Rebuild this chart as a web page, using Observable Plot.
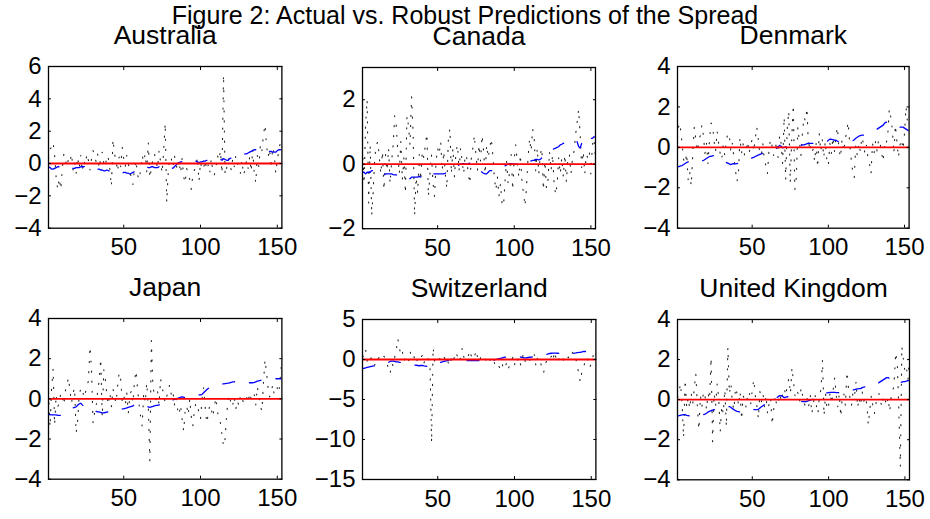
<!DOCTYPE html>
<html>
<head>
<meta charset="utf-8">
<script src="https://cdn.jsdelivr.net/npm/d3@7"></script>
<script src="https://cdn.jsdelivr.net/npm/@observablehq/plot@0.6"></script>
<style>
  html, body { margin: 0; padding: 0; background: #fff; }
  #fig { position: relative; width: 930px; height: 519px; overflow: hidden; background: #fff;
         font-family: "Liberation Sans", Arial, Helvetica, sans-serif; color: #000; }
  #title { position: absolute; left: 0; top: 3px; width: 930px; text-align: center;
           font-size: 25px; line-height: 25px; white-space: nowrap; }
</style>
</head>
<body>
<div id="fig"><div id="title">Figure 2: Actual vs. Robust Predictions of the Spread</div></div>
<script>
const countries = ["Australia", "Canada", "Denmark", "Japan", "Switzerland", "United Kingdom"];
const xDomain = [1, 153];
const xTicks = [50, 100, 150];
const yDomains = [[-4, 6], [-2, 3], [-4, 4], [-4, 4], [-15, 5], [-4, 4]];
const yTicks = [[-4, -2, 0, 2, 4, 6], [-2, 0, 2], [-4, -2, 0, 2, 4], [-4, -2, 0, 2, 4], [-15, -10, -5, 0, 5], [-4, -2, 0, 2, 4]];
const zeroLine = [0];

const actualAustralia = [
  0.3, 0.9, 1.0, 1.3, 0.5, -0.9, -1.6, -0.9, -1.6, -0.3,
  0.6, 0.2, -0.2, 0.3, 0.1, 0.6, -0.4, 0.1, -0.6, 0.4,
  -0.3, 0.5, -0.5, 0.2, -0.1, 0.6, 0.2, -0.4, 0.3, 0.8,
  0.5, 0.1, 0.6, -0.3, 0.4, 0.7, 0.0, -0.2, 0.5, 0.3,
  -0.4, -1.4, 1.5, 0.6, 0.2, -0.5, 0.4, -0.2, 1.0, 0.3,
  -0.2, 0.5, 0.0, -0.6, -0.8, -1.3, -0.3, 0.2, -0.7, -1.0,
  -0.4, 0.5, 0.1, 0.6, -0.5, 1.3, -0.9, -0.3, 0.3, 0.6,
  0.2, -0.3, 0.8, 0.1, -0.6, 0.8, 2.5, -2.4, -0.5, 0.4,
  0.3, -0.2, 0.5, 0.0, -0.4, 0.2, -0.6, 0.3, -0.8, -1.2,
  -0.3, -0.7, -1.0, -1.6, -0.7, -0.4, -0.3, 0.4, -1.1, 0.1,
  -0.4, -0.3, 0.2, -0.4, -0.1, -0.6, 0.3, -0.5, -0.7, -0.3,
  0.5, 0.2, 0.8, -0.6, 5.5, -0.7, -0.3, 0.3, 0.0, -0.4,
  0.3, -0.2, 0.5, 0.0, -0.3, -0.6, 0.2, -0.7, -0.4, 0.2,
  -0.3, 0.4, -0.5, 0.9, -0.6, -1.2, 0.5, -0.2, 1.2, 0.8,
  1.8, 2.4, 1.1, 0.4, 0.9, -0.3, 1.0, 0.6, -0.6, 0.2,
  0.8, 1.3, 0.7];
const robustAustralia = [
  -0.2, -0.25, -0.35, -0.35, -0.3, -0.25, -0.2, -0.2, -0.15, -0.15,
  -0.1, -0.1, -0.15, -0.2, -0.25, -0.3, -0.3, -0.3, -0.25, -0.25,
  -0.25, -0.2, -0.2, -0.2, -0.15, -0.15, -0.1, -0.1, -0.15, -0.2,
  -0.25, -0.3, -0.35, -0.35, -0.4, -0.4, -0.45, -0.45, -0.4, -0.45,
  -0.45, -0.5, -0.5, -0.55, -0.6, -0.6, -0.55, -0.6, -0.6, -0.55,
  -0.55, -0.6, -0.6, -0.65, -0.6, -0.55, -0.5, -0.45, -0.4, -0.35,
  -0.3, -0.25, -0.2, -0.2, -0.2, -0.25, -0.25, -0.2, -0.2, -0.25,
  -0.25, -0.25, -0.2, -0.25, -0.2, -0.25, -0.3, -0.25, -0.25, -0.3,
  -0.25, -0.3, -0.2, -0.1, 0.0, 0.05, 0.1, 0.1, 0.1, 0.15,
  0.1, 0.15, 0.2, 0.2, 0.2, 0.15, 0.15, 0.1, 0.05, 0.1,
  0.1, 0.15, 0.15, 0.2, 0.2, 0.15, 0.15, 0.2, 0.2, 0.15,
  0.2, 0.2, 0.25, 0.2, 0.3, 0.25, 0.2, 0.2, 0.3, 0.35,
  0.4, 0.45, 0.5, 0.5, 0.55, 0.55, 0.55, 0.55, 0.6, 0.6,
  0.65, 0.7, 0.75, 0.8, 0.85, 0.85, 0.8, 0.75, 0.7, 0.7,
  0.7, 0.7, 0.75, 0.7, 0.75, 0.75, 0.7, 0.7, 0.7, 0.8,
  0.85, 0.85, 0.8];

const actualCanada = [
  0.5, -0.6, 1.2, 2.0, -1.2, 0.6, -1.6, -0.8, 0.2, 0.6,
  0.7, 0.2, -0.3, 0.4, -0.8, 0.3, -0.2, 0.5, -0.6, 0.1,
  0.6, 1.5, 1.2, 0.4, -0.3, 0.7, -0.5, 0.2, -0.9, 1.5,
  1.2, 0.6, 2.1, 1.0, -1.6, -0.4, -0.9, 0.3, -0.5, 0.4,
  0.2, 0.6, 0.95, -1.0, -0.3, 0.3, -0.6, -1.0, 0.1, 0.5,
  0.3, 0.7, -0.2, 0.4, -0.3, -0.75, 0.75, 1.1, -0.3, 0.5,
  -0.4, 0.4, 0.6, -0.2, 0.5, 0.1, -0.3, 0.3, 0.2, -0.3,
  -0.6, 0.2, 0.5, 0.9, 0.3, -0.2, 0.6, 0.1, 0.9, 0.4,
  -0.3, 0.6, 0.2, 0.5, 0.8, 0.3, -0.4, -0.8, -0.4, -1.0,
  -0.6, -1.2, -1.3, -0.5, 0.1, -0.6, -0.2, 0.3, -0.8, 0.2,
  0.6, 0.0, -0.4, 0.3, -0.5, -0.9, -1.3, -0.7, 0.2, 0.8,
  0.4, 1.1, 0.8, -0.2, 0.5, -0.3, 0.3, 0.5, -0.8, 0.1,
  -0.75, -0.5, 0.4, -0.2, 0.3, -0.6, -0.95, -0.6, 0.2, -0.3,
  0.2, -0.4, 0.3, -0.55, 0.2, 0.3, -0.3, 0.2, 0.4, 0.9,
  1.3, 1.7, 0.9, -0.1, 0.4, -0.3, 0.3, 0.2, 0.4, -0.3,
  0.6, 0.8, 0.2];
const robustCanada = [
  -0.25, -0.25, -0.3, -0.25, -0.25, -0.25, -0.2, -0.2, -0.25, -0.3,
  -0.3, -0.3, -0.3, -0.35, -0.35, -0.3, -0.3, -0.3, -0.3, -0.3,
  -0.32, -0.33, -0.33, -0.35, -0.35, -0.35, -0.33, -0.35, -0.4, -0.4,
  -0.45, -0.45, -0.4, -0.4, -0.4, -0.4, -0.4, -0.38, -0.4, -0.42,
  -0.4, -0.4, -0.38, -0.4, -0.35, -0.3, -0.3, -0.3, -0.3, -0.3,
  -0.3, -0.3, -0.3, -0.3, -0.28, -0.25, -0.22, -0.2, -0.18, -0.15,
  -0.12, -0.08, -0.05, -0.02, 0.0, 0.02, 0.02, 0.0, 0.0, 0.02,
  0.03, 0.02, 0.0, -0.02, -0.05, -0.1, -0.15, -0.2, -0.25, -0.28,
  -0.3, -0.3, -0.25, -0.2, -0.2, -0.2, -0.15, -0.15, -0.12, -0.1,
  -0.1, -0.1, -0.08, -0.05, -0.02, 0.0, 0.02, 0.02, 0.0, 0.0,
  0.0, 0.02, 0.03, 0.05, 0.05, 0.05, 0.06, 0.08, 0.1, 0.1,
  0.1, 0.12, 0.12, 0.15, 0.15, 0.13, 0.15, 0.2, 0.25, 0.3,
  0.35, 0.38, 0.4, 0.42, 0.45, 0.48, 0.5, 0.52, 0.55, 0.6,
  0.62, 0.65, 0.65, 0.65, 0.68, 0.7, 0.7, 0.72, 0.72, 0.75,
  0.7, 0.55, 0.5, 0.65, 0.8, 0.8, 0.75, 0.75, 0.8, 0.8,
  0.8, 0.85, 0.85];

const actualDenmark = [
  0.5, 1.2, 0.9, 0.2, -0.6, -0.8, -0.3, -1.6, -1.2, -1.9,
  -0.4, 1.0, 0.4, -0.2, 0.3, 0.6, 1.1, 0.6, -0.3, 0.2,
  -0.8, 0.4, 1.2, 1.1, 0.3, -0.2, 0.8, 0.2, -0.3, -0.6,
  0.1, -0.4, 0.3, 0.7, 0.6, -0.2, 0.2, -0.5, -1.1, -1.7,
  -1.3, 0.5, -0.3, 0.2, -0.4, -0.2, 0.3, -0.3, 0.1, 0.4,
  -0.2, 0.4, 1.0, 0.4, -0.3, -0.4, 0.2, -0.6, -0.9, -1.3,
  -0.2, 0.4, 0.1, -0.4, -0.2, 0.3, -0.5, 0.6, 0.2, -0.8,
  1.5, -1.6, 0.9, 1.8, -1.75, 0.5, 2.1, -2.1, -1.5, 1.0,
  0.3, -0.4, 0.7, 1.5, 1.3, 1.95, -0.1, 0.3, -0.3, -0.1,
  -0.7, 0.2, -1.0, 0.7, -0.2, 0.4, -0.5, 0.3, -0.6, -0.9,
  0.2, -0.3, 0.5, -0.2, 0.6, 1.0, -0.1, -0.5, 0.4, -0.2,
  0.3, 0.8, 1.25, 0.2, -0.6, -1.2, -1.5, 0.1, -0.4, 0.2,
  -0.2, 0.5, 0.2, -0.3, 0.1, -0.5, -0.8, -1.3, 0.2, -0.3,
  0.3, -0.2, 0.4, 0.2, -0.3, -0.7, 0.3, 0.2, 0.6, 1.9,
  1.5, 0.9, -0.3, 1.1, 0.3, -0.5, 0.1, 0.4, -0.1, 0.7,
  2.0, 1.2, 1.5];
const robustDenmark = [
  -0.95, -0.95, -0.92, -0.9, -0.85, -0.8, -0.75, -0.72, -0.7, -0.7,
  -0.7, -0.72, -0.75, -0.75, -0.72, -0.7, -0.68, -0.65, -0.6, -0.55,
  -0.5, -0.45, -0.45, -0.42, -0.4, -0.45, -0.5, -0.55, -0.6, -0.65,
  -0.7, -0.72, -0.75, -0.78, -0.82, -0.85, -0.82, -0.8, -0.82, -0.8,
  -0.78, -0.75, -0.7, -0.68, -0.65, -0.62, -0.6, -0.58, -0.55, -0.52,
  -0.5, -0.45, -0.42, -0.38, -0.35, -0.32, -0.3, -0.28, -0.25, -0.22,
  -0.2, -0.18, -0.15, -0.12, -0.1, -0.05, 0.02, 0.1, 0.05, -0.02,
  0.0, 0.02, 0.03, 0.03, 0.04, 0.05, 0.05, 0.05, 0.05, 0.06,
  0.08, 0.1, 0.12, 0.12, 0.15, 0.18, 0.2, 0.2, 0.2, 0.2,
  0.22, 0.22, 0.22, 0.24, 0.25, 0.25, 0.25, 0.25, 0.28, 0.35,
  0.4, 0.4, 0.38, 0.35, 0.35, 0.3, 0.3, 0.3, 0.3, 0.3,
  0.3, 0.3, 0.3, 0.3, 0.3, 0.32, 0.38, 0.45, 0.5, 0.55,
  0.58, 0.6, 0.6, 0.62, 0.65, 0.68, 0.7, 0.75, 0.8, 0.85,
  0.88, 0.9, 0.95, 1.0, 1.05, 1.1, 1.2, 1.25, 1.2, 1.15,
  1.1, 1.05, 1.0, 1.0, 1.0, 1.0, 1.0, 1.0, 1.0, 0.95,
  0.9, 0.85, 0.8];

const actualJapan = [
  0.3, -1.4, 0.5, 1.5, -1.3, 0.2, -0.4, -0.2, 0.3, 0.2,
  -0.3, 0.4, 0.7, 1.05, 0.4, -0.2, 0.3, 0.55, -1.7, -1.1,
  0.2, 0.5, 0.55, 0.05, 0.3, 0.6, 0.9, 2.6, 1.5, -1.2,
  -0.7, -0.4, 0.4, 0.9, 2.0, -0.9, 1.45, 1.0, 0.2, -0.3,
  0.3, -0.4, 0.5, 0.1, -0.2, 0.6, 1.3, 1.0, -0.1, 0.2,
  -0.3, 0.3, -0.7, 0.2, 0.4, -0.2, 0.9, 1.4, 0.5, -0.3,
  -0.9, -1.35, 0.3, -0.2, 0.8, -0.4, -3.1, 2.9, 0.6, 0.2,
  -0.05, 0.4, -0.3, 1.0, 0.6, 0.2, -0.2, 0.1, 0.5, 0.7,
  0.2, 0.4, -0.3, 0.1, -0.5, -0.8, -0.3, -1.0, -1.6, -0.6,
  -0.35, -0.8, 0.0, -0.9, -1.35, -0.6, -0.2, -0.3, -0.7, -1.0,
  0.0, 0.55, -0.4, -1.2, -0.8, -0.3, -0.5, -0.9, -0.4, 0.05,
  -0.6, -1.0, -1.2, -1.8, -2.35, -2.0, -0.8, 0.0, 0.2, -0.4,
  -0.3, 0.1, -0.5, -0.1, -0.35, 0.2, 0.05, -0.2, 0.0, 0.1,
  -0.2, 0.3, 0.0, -0.1, 0.2, -0.3, 0.6, 0.2, -0.4, -0.6,
  0.8, 1.95, 1.3, 0.55, 0.1, 0.3, 0.7, 0.2, 0.4, 0.55,
  0.3, 1.1, 2.0];
const robustJapan = [
  -0.78, -0.78, -0.8, -0.8, -0.8, -0.8, -0.82, -0.82, -0.82, -0.8,
  -0.75, -0.7, -0.65, -0.6, -0.55, -0.5, -0.45, -0.42, -0.4, -0.32,
  -0.25, -0.22, -0.3, -0.38, -0.45, -0.5, -0.52, -0.52, -0.55, -0.58,
  -0.6, -0.62, -0.65, -0.65, -0.68, -0.7, -0.7, -0.68, -0.66, -0.65,
  -0.64, -0.62, -0.6, -0.6, -0.58, -0.55, -0.55, -0.52, -0.5, -0.5,
  -0.48, -0.45, -0.42, -0.4, -0.38, -0.35, -0.3, -0.28, -0.25, -0.25,
  -0.28, -0.3, -0.32, -0.35, -0.38, -0.4, -0.42, -0.4, -0.38, -0.35,
  -0.33, -0.32, -0.3, -0.3, -0.32, -0.3, -0.25, -0.2, -0.15, -0.1,
  -0.08, -0.05, -0.03, 0.0, 0.02, 0.05, 0.08, 0.1, 0.08, 0.07,
  0.07, 0.07, 0.08, 0.1, 0.12, 0.15, 0.17, 0.2, 0.2, 0.2,
  0.22, 0.3, 0.38, 0.45, 0.52, 0.55, 0.58, 0.6, 0.62, 0.65,
  0.68, 0.7, 0.72, 0.74, 0.75, 0.76, 0.77, 0.78, 0.8, 0.82,
  0.84, 0.85, 0.86, 0.85, 0.84, 0.83, 0.82, 0.82, 0.8, 0.8,
  0.8, 0.8, 0.8, 0.8, 0.82, 0.85, 0.88, 0.9, 0.92, 0.95,
  0.95, 0.95, 0.96, 0.97, 0.98, 0.98, 0.99, 1.0, 1.0, 1.0,
  1.0, 1.0, 1.0];

const actualSwitzerland = [
  0.3, 0.5, 1.3, -0.2, 0.4, 0.0, 0.3, -0.3, -0.7, 0.2,
  0.1, 0.3, -0.1, 0.2, 0.4, 0.1, -0.3, -1.5, -1.75, -0.5,
  -0.8, 0.3, 1.2, 2.6, 1.5, 0.5, 0.95, -0.2, 0.3, 0.1,
  -0.3, 1.0, 0.3, 0.6, 0.1, -0.5, 0.2, -0.1, 0.3, 0.5,
  -0.5, 0.2, 0.4, -0.2, -1.2, -10.4, 1.5, -0.2, 0.3, 0.1,
  0.2, -0.2, 0.3, 0.4, -0.1, 0.2, -0.5, -0.8, 0.3, -0.2,
  0.4, 0.95, 0.2, -0.3, 0.4, 1.45, 0.3, -0.1, 0.2, 0.5,
  1.15, 0.3, 0.0, 0.4, 1.15, 0.2, -0.3, 0.3, 0.0, -0.2,
  0.1, -0.3, 0.2, -0.1, 0.1, 0.3, -0.5, -0.2, -0.6, -0.9,
  -1.3, -0.6, -1.25, -0.8, -0.4, -1.2, -0.5, -0.1, 0.3, -0.7,
  0.2, -0.1, 0.3, -0.7, 0.2, 0.75, -0.3, 0.1, 0.3, -0.1,
  0.2, 0.0, 0.6, -0.9, 0.3, 0.0, -0.3, -1.45, -1.65, -0.5,
  -0.2, 0.3, 0.1, 0.4, -0.2, 1.0, 0.2, -0.4, 0.1, 0.3,
  0.55, -0.2, 0.1, -0.1, 0.3, 0.0, 0.5, 0.95, 0.2, 0.0,
  -0.7, -2.2, -2.8, -1.3, -0.9, -0.3, 0.3, -0.2, -1.0, -0.5,
  0.3, 1.15, 0.55];
const robustSwitzerland = [
  -1.1, -1.1, -1.05, -1.0, -0.95, -0.9, -0.85, -0.8, -0.8, -0.75,
  -0.7, -0.65, -0.6, -0.55, -0.5, -0.45, -0.4, -0.35, -0.25, -0.2,
  -0.2, -0.25, -0.3, -0.3, -0.35, -0.35, -0.4, -0.4, -0.42, -0.45,
  -0.5, -0.55, -0.6, -0.65, -0.7, -0.72, -0.75, -0.78, -0.75, -0.75,
  -0.8, -0.82, -0.85, -0.88, -0.9, -0.9, -0.9, -0.85, -0.7, -0.55,
  -0.45, -0.35, -0.3, -0.25, -0.2, -0.15, -0.1, 0.0, 0.0, 0.0,
  -0.05, -0.05, -0.08, -0.1, -0.1, -0.1, -0.12, -0.12, -0.15, -0.15,
  -0.15, -0.15, -0.15, -0.15, -0.15, -0.15, -0.15, -0.15, -0.18, -0.2,
  -0.2, -0.2, -0.2, -0.18, -0.15, -0.1, -0.05, 0.0, 0.05, 0.1,
  0.15, 0.2, 0.25, 0.3, 0.32, 0.35, 0.35, 0.38, 0.4, 0.4,
  0.4, 0.38, 0.35, 0.3, 0.25, 0.2, 0.2, 0.22, 0.25, 0.28,
  0.3, 0.32, 0.35, 0.38, 0.4, 0.42, 0.45, 0.5, 0.55, 0.6,
  0.65, 0.7, 0.75, 0.78, 0.8, 0.8, 0.8, 0.78, 0.75, 0.75,
  0.72, 0.72, 0.7, 0.7, 0.7, 0.7, 0.72, 0.75, 0.8, 0.82,
  0.85, 0.88, 0.9, 0.95, 1.0, 1.0, 1.0, 0.95, 0.9, 0.9,
  0.9, 0.9, 0.9];

const actualUnitedKingdom = [
  0.1, 0.4, 0.8, -0.2, -1.9, 1.0, -0.4, 0.1, -0.45, 0.3,
  -0.2, 0.6, 1.3, -0.3, -1.5, 0.2, -0.35, 0.4, 0.2, -0.5,
  0.3, 0.0, 2.1, -2.1, 0.3, -0.3, 0.8, 0.1, -1.6, -0.3,
  -0.7, 0.5, -1.35, 2.6, 0.3, 0.8, -0.2, -0.5, 0.6, 0.3,
  -0.3, 0.4, -1.0, 0.2, 0.0, -0.4, 0.3, 0.4, -0.2, 0.5,
  1.0, 0.2, -0.3, -0.95, 0.4, -0.1, 0.3, -0.4, 0.2, -0.7,
  -0.2, 0.1, -1.25, -0.5, 0.2, -0.3, -0.2, 0.3, -0.1, 0.4,
  0.55, 0.2, 0.8, 1.05, 0.3, 1.6, 0.9, 0.2, 0.5, 0.3,
  -0.1, 0.6, 0.2, -0.2, -0.35, 0.1, -0.3, 0.2, -0.7, -0.2,
  0.3, -0.3, -0.7, 0.2, 0.5, 2.0, -0.8, 0.3, -0.5, -0.3,
  0.4, -0.2, 0.5, 1.1, 0.2, -0.35, 0.3, -0.85, 0.2, 0.3,
  -0.3, 1.4, 0.6, 0.1, -0.3, 0.4, 0.2, 0.9, -0.4, 0.1,
  -0.3, 0.4, -0.1, 0.15, -0.2, -1.25, -0.5, 0.2, -0.3, -0.7,
  -0.2, 0.15, 0.3, -0.1, -0.35, 0.2, 0.0, -0.3, 0.1, -0.6,
  0.15, 0.3, 1.0, 2.35, 1.8, -0.5, -3.35, 2.65, 2.0, 1.4,
  1.6, 1.0, 2.1];
const robustUnitedKingdom = [
  -0.82, -0.8, -0.78, -0.76, -0.75, -0.75, -0.78, -0.8, -0.82, -0.85,
  -0.85, -0.85, -0.85, -0.82, -0.8, -0.78, -0.76, -0.75, -0.72, -0.68,
  -0.62, -0.58, -0.55, -0.52, -0.5, -0.48, -0.45, -0.42, -0.4, -0.38,
  -0.36, -0.35, -0.35, -0.34, -0.35, -0.38, -0.45, -0.5, -0.55, -0.58,
  -0.6, -0.62, -0.64, -0.65, -0.65, -0.62, -0.6, -0.55, -0.52, -0.5,
  -0.5, -0.5, -0.5, -0.48, -0.42, -0.36, -0.3, -0.24, -0.18, -0.15,
  -0.12, -0.08, -0.04, 0.0, 0.05, 0.1, 0.15, 0.2, 0.2, 0.15,
  0.1, 0.12, 0.15, 0.12, 0.15, 0.12, 0.08, 0.05, 0.02, 0.0,
  -0.05, -0.08, -0.1, -0.1, -0.1, -0.08, -0.05, -0.02, 0.0, 0.02,
  0.05, 0.08, 0.12, 0.15, 0.2, 0.25, 0.3, 0.32, 0.34, 0.35,
  0.36, 0.36, 0.36, 0.36, 0.35, 0.35, 0.35, 0.36, 0.36, 0.36,
  0.36, 0.38, 0.4, 0.42, 0.45, 0.48, 0.5, 0.52, 0.54, 0.55,
  0.55, 0.6, 0.62, 0.65, 0.67, 0.68, 0.69, 0.7, 0.7, 0.7,
  0.75, 0.8, 0.85, 0.9, 0.95, 1.0, 1.05, 1.1, 1.1, 1.05,
  0.95, 0.85, 0.8, 0.8, 0.82, 0.85, 0.85, 0.88, 0.9, 0.9,
  0.92, 0.95, 0.95];

const actualSeries = [actualAustralia, actualCanada, actualDenmark, actualJapan, actualSwitzerland, actualUnitedKingdom];
const robustSeries = [robustAustralia, robustCanada, robustDenmark, robustJapan, robustSwitzerland, robustUnitedKingdom];

// layout of each panel's plotting frame (pixels)
const frames = [
  {left: 48.3, top: 66, w: 233.4, h: 161.7},
  {left: 362.3, top: 66.5, w: 233, h: 161.2},
  {left: 677.3, top: 66, w: 231.6, h: 161.7},
  {left: 48.3, top: 318.3, w: 233.4, h: 160.7},
  {left: 362.3, top: 319, w: 233.4, h: 160},
  {left: 677.3, top: 318.7, w: 232, h: 160.3}
];

const FONT = "'Liberation Sans', Arial, Helvetica, sans-serif";
const fig = document.getElementById("fig");
const ML = 60, MT = 50, MR = 14, MB = 45;

countries.forEach((name, k) => {
  const f = frames[k];
  const xy = {x: (d, i) => i + 1, y: (d) => d};
  const svg = Plot.plot({
    width: ML + f.w + MR,
    height: MT + f.h + MB,
    marginLeft: ML, marginTop: MT, marginRight: MR, marginBottom: MB,
    x: {domain: xDomain, label: null},
    y: {domain: yDomains[k], label: null},
    style: {fontFamily: FONT, fontSize: "24px", color: "black", background: "transparent", overflow: "visible"},
    marks: [
      Plot.line(actualSeries[k], {...xy, stroke: "#222", strokeWidth: 1.1, strokeDasharray: "1.1,9", clip: true}),
      Plot.line(robustSeries[k], {...xy, stroke: "#0000ff", strokeWidth: 1.3, strokeDasharray: "12,15", clip: true}),
      Plot.ruleY(zeroLine, {stroke: "#ff0000", strokeWidth: 1.8}),
      Plot.frame({stroke: "black", strokeWidth: 1.3}),
      Plot.axisX(xTicks, {anchor: "bottom", tickSize: 0, tickPadding: 10, label: null}),
      Plot.axisX(xTicks, {anchor: "bottom", tickSize: -3, tickFormat: () => "", label: null}),
      Plot.axisX(xTicks, {anchor: "top", tickSize: -3, tickFormat: () => "", label: null}),
      Plot.axisY(yTicks[k], {anchor: "left", tickSize: 0, tickPadding: 7, label: null}),
      Plot.axisY(yTicks[k], {anchor: "left", tickSize: -3, tickFormat: () => "", label: null}),
      Plot.axisY(yTicks[k], {anchor: "right", tickSize: -3, tickFormat: () => "", label: null}),
      Plot.text([name], {frameAnchor: "top", dy: -22, lineAnchor: "bottom", fontSize: 26.5, fill: "black"})
    ]
  });
  svg.style.position = "absolute";
  svg.style.left = (f.left - ML) + "px";
  svg.style.top = (f.top - MT) + "px";
  fig.appendChild(svg);
});
</script>
</body>
</html>
